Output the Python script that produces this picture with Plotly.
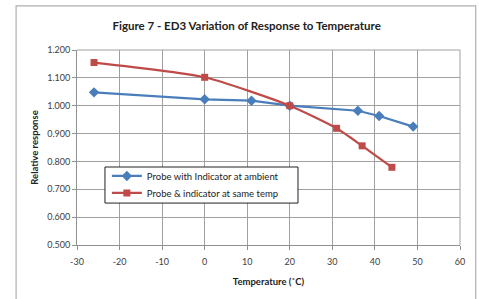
import plotly.graph_objects as go

blue_x = [-26, 0, 11, 20, 36, 41, 49]
blue_y = [1.048, 1.023, 1.018, 1.000, 0.982, 0.963, 0.925]
red_x = [-26, 0, 20, 31, 37, 44]
red_y = [1.155, 1.102, 1.000, 0.919, 0.856, 0.779]
blue_name = "Probe with Indicator at ambient"
red_name = "Probe & indicator at same temp"
title = "Figure 7 - ED3 Variation of Response to Temperature"
x_title = "Temperature (˚C)"
y_title = "Relative response"
y_ticks = [0.5, 0.6, 0.7, 0.8, 0.9, 1.0, 1.1, 1.2]
x_ticks = [-30, -20, -10, 0, 10, 20, 30, 40, 50, 60]

FONT = "Lato, 'Open Sans', sans-serif"

fig = go.Figure()
fig.add_trace(go.Scatter(x=blue_x, y=blue_y, name=blue_name, mode="lines+markers",
                         legend="legend",
                         line=dict(color="#4A7EBB", width=2.2),
                         marker=dict(symbol="diamond", size=8, color="#4A7EBB")))
fig.add_trace(go.Scatter(x=red_x, y=red_y, name=red_name, mode="lines+markers",
                         legend="legend2",
                         line=dict(color="#BE4B48", width=2.2, shape="spline", smoothing=0.6),
                         marker=dict(symbol="square", size=7, color="#BE4B48")))

leg_common = dict(xanchor="left", yanchor="middle", borderwidth=0, bgcolor="rgba(0,0,0,0)",
                  font=dict(family=FONT, size=9.5, color="#222222"), itemwidth=30)

fig.update_layout(
    width=479, height=299,
    margin=dict(l=77, r=19, t=50, b=54, autoexpand=False),
    paper_bgcolor="white", plot_bgcolor="white",
    font=dict(family=FONT, size=9, color="#404040"),
    title=dict(text="<b>" + title + "</b>", x=0.515, xanchor="center", y=0.912, yanchor="middle",
               font=dict(family=FONT, size=11.5, color="#222222")),
    showlegend=True,
    legend=dict(x=0.078, y=0.354, **leg_common),
    legend2=dict(x=0.078, y=0.267, **leg_common),
    xaxis=dict(range=[-30, 60], tickvals=x_ticks, ticktext=[str(v) for v in x_ticks],
               showgrid=True, gridcolor="#A0A0A0", gridwidth=1,
               showline=True, linecolor="#909090", linewidth=1, mirror=False,
               ticks="outside", ticklen=4, tickcolor="#909090", automargin=False,
               ticklabeloverflow="allow", ticklabelstandoff=4,
               zeroline=False, tickfont=dict(size=9, color="#404040"),
               title=dict(text="<b>" + x_title + "</b>", standoff=12,
                          font=dict(family=FONT, size=9.5, color="#222222"))),
    yaxis=dict(range=[0.5, 1.2], tickvals=y_ticks, ticktext=["%.3f" % v for v in y_ticks],
               showgrid=True, gridcolor="#A0A0A0", gridwidth=1,
               showline=True, linecolor="#909090", linewidth=1, automargin=False,
               ticks="outside", ticklen=4, tickcolor="#909090",
               zeroline=False, tickfont=dict(size=9, color="#404040"),
               title=dict(text="<b>" + y_title + "</b>", standoff=6,
                          font=dict(family=FONT, size=9.5, color="#222222"))),
    shapes=[
        dict(type="rect", xref="paper", yref="paper", x0=-0.159, x1=1.041, y0=-0.35, y1=1.226,
             line=dict(color="#B0B0B0", width=1.2), fillcolor="rgba(0,0,0,0)", layer="below"),
        dict(type="line", xref="paper", yref="paper", x0=1, x1=1, y0=0, y1=1,
             line=dict(color="#A0A0A0", width=1)),
        dict(type="line", xref="paper", yref="paper", x0=0, x1=1, y0=1, y1=1,
             line=dict(color="#A0A0A0", width=1)),
        dict(type="rect", xref="paper", yref="paper", x0=0.073, x1=0.577, y0=0.215, y1=0.40,
             line=dict(color="#222222", width=1), fillcolor="white", layer="above"),
    ],
)

fig.write_html("out.html", config={"displayModeBar": False},
               post_script="document.body.style.margin='0';")
